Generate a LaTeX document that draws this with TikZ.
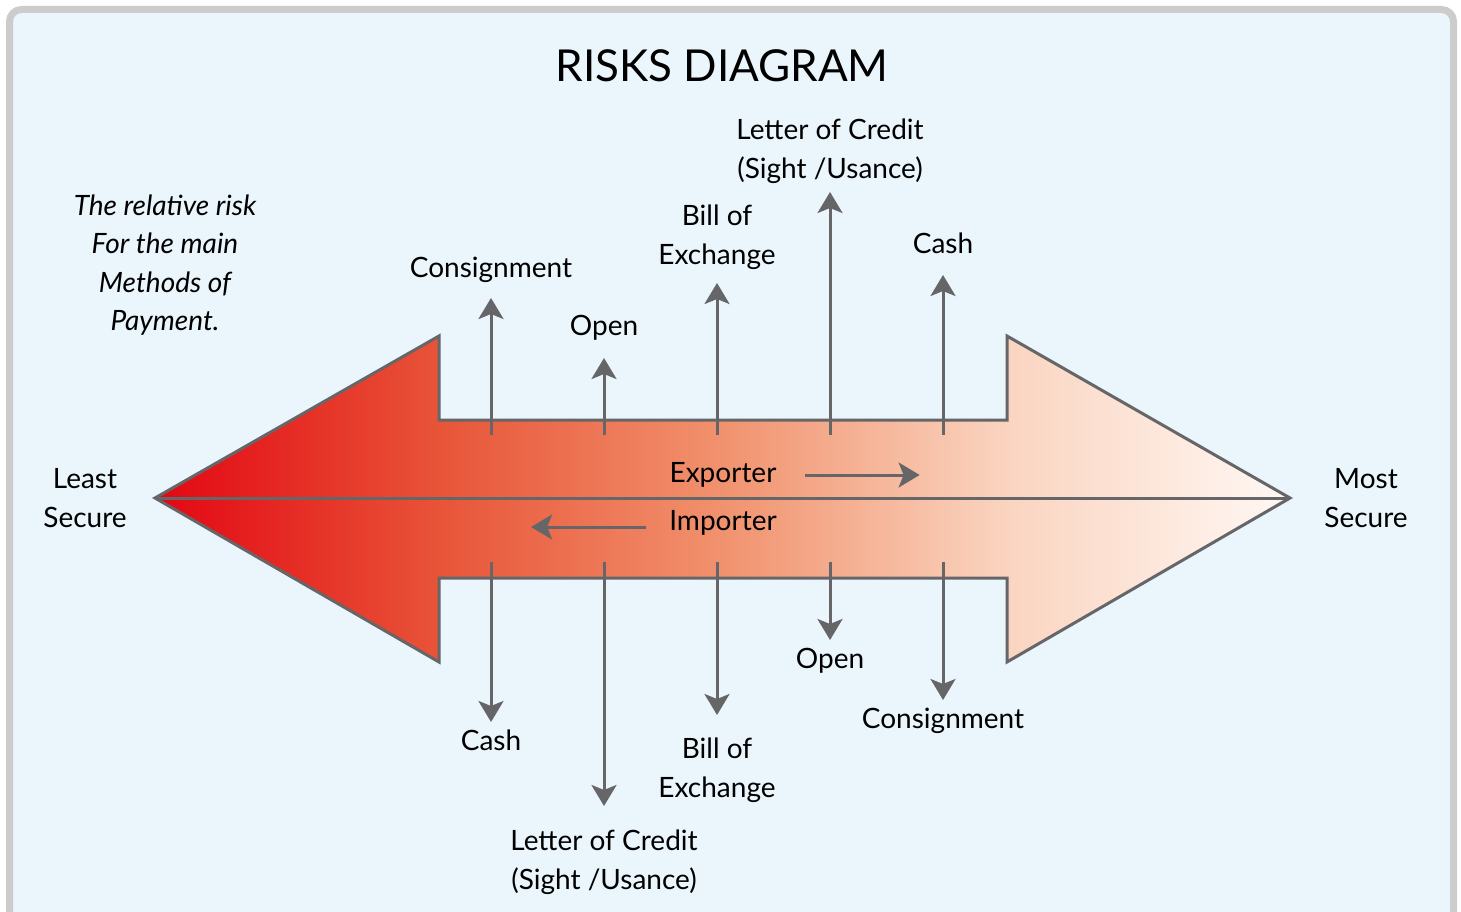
\documentclass[tikz,border=0pt]{standalone}
\usepackage{fontspec}
\setmainfont{Lato}
\usetikzlibrary{arrows.meta, positioning}

\definecolor{framegray}{RGB}{204,204,204}
\definecolor{paperblue}{RGB}{234,245,252}
\definecolor{edgegray}{RGB}{102,102,104}
\definecolor{riskred}{RGB}{227,6,19}
\definecolor{riskorange}{RGB}{232,84,56}
\definecolor{riskmid}{RGB}{241,146,110}
\definecolor{riskpeach}{RGB}{250,212,192}
\definecolor{riskpale}{RGB}{255,248,244}

% red to pale, left to right (the path box sits between 25bp and 75bp)
\pgfdeclarehorizontalshading{riskfade}{100bp}{color(0bp)=(riskred); color(25bp)=(riskred);
	color(37.5bp)=(riskorange); color(50bp)=(riskmid); color(62.5bp)=(riskpeach);
	color(75bp)=(riskpale); color(100bp)=(riskpale)}

\begin{document}
\begin{tikzpicture}[x=1pt, y=-1pt,
	flow/.style={draw=edgegray, line width=3pt, -{Stealth[length=21pt, width=25pt, inset=5pt]}},
	lbl/.style={inner sep=0pt, align=center, font=\fontsize{28}{39}\selectfont},
	note/.style={inner sep=0pt, align=center, font=\itshape\fontsize{28}{38.5}\selectfont},
	riskshape/.style={draw=edgegray, line width=3pt, line join=miter, shading=riskfade}]
	\useasboundingbox (0,0) rectangle (1461,912);
	\clip (0,0) rectangle (1461,912);
	\fill [white] (0,0) rectangle (1461,912);
	\draw [framegray, fill=paperblue, line width=7pt, rounded corners=12pt] (9.5,9.5) rectangle (1453.5,960);

	\node [inner sep=0pt, font=\fontsize{44}{50}\selectfont] (title) at (722,66) {RISKS DIAGRAM};

	% the double arrow
	\coordinate (lt) at (155,498);
	\coordinate (rt) at (1290,498);
	\path [riskshape] (lt) -- (439,336) -- (439,420) -- (1007,420) -- (1007,336) -- (rt)
		-- (1007,662) -- (1007,578) -- (439,578) -- (439,662) -- cycle;
	\draw [edgegray, line width=3pt] (lt) -- (rt);

	\node [lbl] (least) at (85,498) {Least\\Secure};
	\node [lbl] (most) at (1366,498) {Most\\Secure};
	\node [note] (risk) at (165,265) {The relative risk\\For the main\\Methods of\\Payment.};

	% exporter / importer
	\node [lbl] (exp) at (723,475) {Exporter};
	\node [lbl] (imp) at (723,523) {Importer};
	\draw [flow] ([xshift=28pt]exp.east) -- ++(115,0);
	\draw [flow] ([xshift=-23pt, yshift=-4pt]imp.west) -- ++(-115,0);

	% pointer feet inside the shaft
	\foreach \n/\x in {1/491, 2/604, 3/717, 4/830, 5/943} {
		\coordinate (u\n) at (\x,435);
		\coordinate (d\n) at (\x,562);
	}

	% exporter side
	\coordinate (ut1) at (491,298);
	\coordinate (ut2) at (604,358);
	\coordinate (ut3) at (717,283);
	\coordinate (ut4) at (830,192);
	\coordinate (ut5) at (943,275);
	\node [lbl, above=15pt of ut1] (ucons) {Consignment};
	\node [lbl, above=17pt of ut2] (uopen) {Open};
	\node [lbl, above=13pt of ut3] (ubill) {Bill of\\Exchange};
	\node [lbl, above=8pt of ut4] (uloc) {Letter of Credit\\(Sight /Usance)};
	\node [lbl, above=21pt of ut5] (ucash) {Cash};
	\draw [flow] (u1) -- (ut1);
	\draw [flow] (u2) -- (ut2);
	\draw [flow] (u3) -- (ut3);
	\draw [flow] (u4) -- (ut4);
	\draw [flow] (u5) -- (ut5);

	% importer side
	\coordinate (dt1) at (491,722);
	\coordinate (dt2) at (604,806);
	\coordinate (dt3) at (717,715);
	\coordinate (dt4) at (830,640);
	\coordinate (dt5) at (943,700);
	\node [lbl, below=8pt of dt1] (dcash) {Cash};
	\node [lbl, below=24pt of dt2] (dloc) {Letter of Credit\\(Sight /Usance)};
	\node [lbl, below=23pt of dt3] (dbill) {Bill of\\Exchange};
	\node [lbl, below=8pt of dt4] (dopen) {Open};
	\node [lbl, below=8pt of dt5] (dcons) {Consignment};
	\draw [flow] (d1) -- (dt1);
	\draw [flow] (d2) -- (dt2);
	\draw [flow] (d3) -- (dt3);
	\draw [flow] (d4) -- (dt4);
	\draw [flow] (d5) -- (dt5);
\end{tikzpicture}
\end{document}
